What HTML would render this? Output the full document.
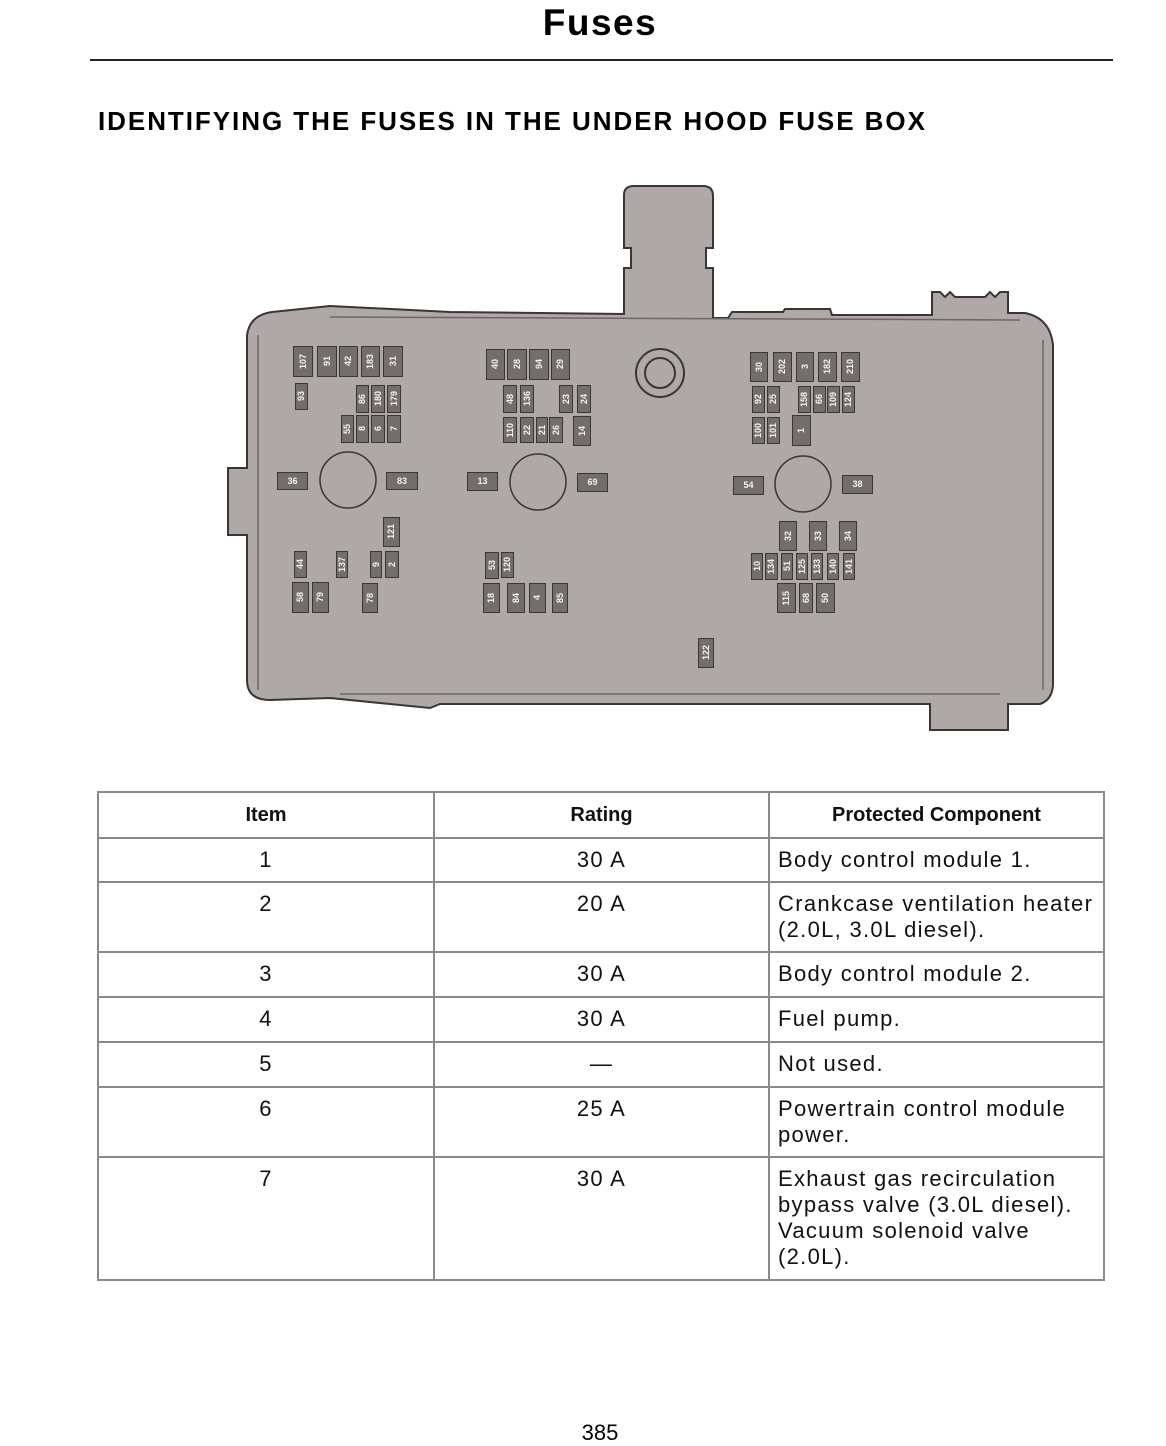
<!DOCTYPE html>
<html><head><meta charset="utf-8">
<style>
body{margin:0;width:1166px;height:1446px;background:#fff;position:relative;font-family:"Liberation Sans",sans-serif;overflow:hidden}
.t{position:absolute}
.f{position:absolute;background:#736d6b;border:1.5px solid #3a3636;box-sizing:border-box;color:#f4f2f2;font-weight:bold;font-size:9px;display:flex;align-items:center;justify-content:center;line-height:1}
.f.v span{writing-mode:vertical-rl;transform:rotate(180deg)}
table{position:absolute;left:97px;top:791px;width:1008px;border-collapse:collapse;font-size:22px;letter-spacing:1.3px;color:#111;table-layout:fixed}
td{border:2px solid #8a8a8a;vertical-align:top;padding:8px 0 0 0;line-height:26px}
td.c{text-align:center}
td.l{padding-left:8px;white-space:nowrap}
th{border:2px solid #8a8a8a;height:42px;font-size:20px;font-weight:bold;letter-spacing:0px}
</style></head><body>
<div class="t" style="left:0;width:1200px;top:2px;text-align:center;font-size:37px;font-weight:bold;letter-spacing:1.5px">Fuses</div>
<div class="t" style="left:90px;top:59px;width:1023px;height:2px;background:#222"></div>
<div class="t" style="left:98px;top:106px;font-size:26px;font-weight:bold;letter-spacing:1.95px;white-space:nowrap">IDENTIFYING THE FUSES IN THE UNDER HOOD FUSE BOX</div>

<svg class="t" style="left:0;top:0" width="1166" height="760">
<path d="M624,195 Q624,186 634,186 L703,186 Q713,186 713,196 L713,248 L706,248 L706,268 L713,268 L713,318 L728,318 L732,312 L783,312 L785,309 L830,309 L832,315 L932,315 L932,292 L940,292 L945,297 L950,292 L955,297 L985,297 L990,292 L995,297 L1000,292 L1008,292 L1008,313 L1025,313 Q1050,318 1053,345 L1053,685 Q1052,700 1040,704 L1008,704 L1008,730 L930,730 L930,704 L440,704 L430,708 L330,698 L270,700 Q247,700 247,680 L247,535 L228,535 L228,468 L247,468 L247,335 Q250,315 272,312 L330,306 L450,312 L624,314 L624,268 L631,268 L631,248 L624,248 Z" fill="#aea8a6" stroke="#3a3636" stroke-width="2"/>
<path d="M258,335 L258,690 M1043,340 L1043,690 M330,317 L1020,320 M340,694 L1000,694" stroke="#6b6565" stroke-width="1.5" fill="none"/>
<circle cx="660" cy="373" r="24" fill="none" stroke="#3a3636" stroke-width="2"/>
<circle cx="660" cy="373" r="15" fill="none" stroke="#3a3636" stroke-width="2"/>
<circle cx="348" cy="480" r="28" fill="none" stroke="#3a3636" stroke-width="1.5"/>
<circle cx="538" cy="482" r="28" fill="none" stroke="#3a3636" stroke-width="1.5"/>
<circle cx="803" cy="484" r="28" fill="none" stroke="#3a3636" stroke-width="1.5"/>
</svg>

<div class="f v" style="left:293px;top:346px;width:20px;height:31px"><span>107</span></div>
<div class="f v" style="left:317px;top:346px;width:20px;height:31px"><span>91</span></div>
<div class="f v" style="left:339px;top:346px;width:19px;height:31px"><span>42</span></div>
<div class="f v" style="left:361px;top:346px;width:19px;height:31px"><span>183</span></div>
<div class="f v" style="left:383px;top:346px;width:20px;height:31px"><span>31</span></div>
<div class="f v" style="left:295px;top:383px;width:13px;height:27px"><span>93</span></div>
<div class="f v" style="left:356px;top:385px;width:13px;height:28px"><span>86</span></div>
<div class="f v" style="left:371px;top:385px;width:14px;height:28px"><span>180</span></div>
<div class="f v" style="left:387px;top:385px;width:14px;height:28px"><span>179</span></div>
<div class="f v" style="left:341px;top:415px;width:13px;height:28px"><span>55</span></div>
<div class="f v" style="left:356px;top:415px;width:13px;height:28px"><span>8</span></div>
<div class="f v" style="left:371px;top:415px;width:14px;height:28px"><span>6</span></div>
<div class="f v" style="left:387px;top:415px;width:14px;height:28px"><span>7</span></div>
<div class="f" style="left:277px;top:472px;width:31px;height:18px"><span>36</span></div>
<div class="f" style="left:386px;top:472px;width:32px;height:18px"><span>83</span></div>
<div class="f v" style="left:383px;top:517px;width:17px;height:30px"><span>121</span></div>
<div class="f v" style="left:294px;top:551px;width:13px;height:27px"><span>44</span></div>
<div class="f v" style="left:336px;top:551px;width:12px;height:27px"><span>137</span></div>
<div class="f v" style="left:370px;top:551px;width:12px;height:27px"><span>9</span></div>
<div class="f v" style="left:385px;top:551px;width:14px;height:27px"><span>2</span></div>
<div class="f v" style="left:292px;top:582px;width:17px;height:31px"><span>58</span></div>
<div class="f v" style="left:312px;top:582px;width:17px;height:31px"><span>79</span></div>
<div class="f v" style="left:362px;top:583px;width:16px;height:30px"><span>78</span></div>
<div class="f v" style="left:486px;top:349px;width:19px;height:31px"><span>40</span></div>
<div class="f v" style="left:507px;top:349px;width:20px;height:31px"><span>28</span></div>
<div class="f v" style="left:529px;top:349px;width:20px;height:31px"><span>94</span></div>
<div class="f v" style="left:551px;top:349px;width:19px;height:31px"><span>29</span></div>
<div class="f v" style="left:503px;top:385px;width:14px;height:28px"><span>48</span></div>
<div class="f v" style="left:520px;top:385px;width:14px;height:28px"><span>136</span></div>
<div class="f v" style="left:559px;top:385px;width:14px;height:28px"><span>23</span></div>
<div class="f v" style="left:577px;top:385px;width:14px;height:28px"><span>24</span></div>
<div class="f v" style="left:503px;top:417px;width:14px;height:26px"><span>110</span></div>
<div class="f v" style="left:520px;top:417px;width:14px;height:26px"><span>22</span></div>
<div class="f v" style="left:536px;top:417px;width:12px;height:26px"><span>21</span></div>
<div class="f v" style="left:549px;top:417px;width:14px;height:26px"><span>26</span></div>
<div class="f v" style="left:573px;top:416px;width:18px;height:30px"><span>14</span></div>
<div class="f" style="left:467px;top:472px;width:31px;height:19px"><span>13</span></div>
<div class="f" style="left:577px;top:473px;width:31px;height:19px"><span>69</span></div>
<div class="f v" style="left:485px;top:552px;width:14px;height:27px"><span>53</span></div>
<div class="f v" style="left:501px;top:552px;width:13px;height:26px"><span>120</span></div>
<div class="f v" style="left:483px;top:583px;width:17px;height:30px"><span>18</span></div>
<div class="f v" style="left:507px;top:583px;width:18px;height:30px"><span>84</span></div>
<div class="f v" style="left:529px;top:583px;width:17px;height:30px"><span>4</span></div>
<div class="f v" style="left:552px;top:583px;width:16px;height:30px"><span>85</span></div>
<div class="f v" style="left:750px;top:352px;width:18px;height:30px"><span>30</span></div>
<div class="f v" style="left:773px;top:352px;width:19px;height:30px"><span>202</span></div>
<div class="f v" style="left:796px;top:352px;width:18px;height:30px"><span>3</span></div>
<div class="f v" style="left:818px;top:352px;width:19px;height:30px"><span>182</span></div>
<div class="f v" style="left:841px;top:352px;width:19px;height:30px"><span>210</span></div>
<div class="f v" style="left:752px;top:386px;width:13px;height:27px"><span>92</span></div>
<div class="f v" style="left:767px;top:386px;width:13px;height:27px"><span>25</span></div>
<div class="f v" style="left:798px;top:386px;width:13px;height:27px"><span>158</span></div>
<div class="f v" style="left:813px;top:386px;width:13px;height:27px"><span>66</span></div>
<div class="f v" style="left:827px;top:386px;width:13px;height:27px"><span>109</span></div>
<div class="f v" style="left:842px;top:386px;width:13px;height:27px"><span>124</span></div>
<div class="f v" style="left:752px;top:417px;width:13px;height:27px"><span>100</span></div>
<div class="f v" style="left:767px;top:417px;width:13px;height:27px"><span>101</span></div>
<div class="f v" style="left:792px;top:415px;width:19px;height:31px"><span>1</span></div>
<div class="f" style="left:733px;top:476px;width:31px;height:19px"><span>54</span></div>
<div class="f" style="left:842px;top:475px;width:31px;height:19px"><span>38</span></div>
<div class="f v" style="left:779px;top:521px;width:18px;height:30px"><span>32</span></div>
<div class="f v" style="left:809px;top:521px;width:18px;height:30px"><span>33</span></div>
<div class="f v" style="left:839px;top:521px;width:18px;height:30px"><span>34</span></div>
<div class="f v" style="left:751px;top:553px;width:12px;height:27px"><span>10</span></div>
<div class="f v" style="left:765px;top:553px;width:13px;height:27px"><span>134</span></div>
<div class="f v" style="left:781px;top:553px;width:12px;height:27px"><span>51</span></div>
<div class="f v" style="left:796px;top:553px;width:12px;height:27px"><span>125</span></div>
<div class="f v" style="left:811px;top:553px;width:12px;height:27px"><span>133</span></div>
<div class="f v" style="left:827px;top:553px;width:12px;height:27px"><span>140</span></div>
<div class="f v" style="left:843px;top:553px;width:12px;height:27px"><span>141</span></div>
<div class="f v" style="left:777px;top:583px;width:19px;height:30px"><span>115</span></div>
<div class="f v" style="left:799px;top:583px;width:14px;height:30px"><span>68</span></div>
<div class="f v" style="left:816px;top:583px;width:19px;height:30px"><span>50</span></div>
<div class="f v" style="left:698px;top:638px;width:16px;height:30px"><span>122</span></div>

<table>
<colgroup><col style="width:336px"><col style="width:335px"><col></colgroup>
<tr><th>Item</th><th>Rating</th><th>Protected Component</th></tr>
<tr style="height:44px"><td class="c">1</td><td class="c">30 A</td><td class="l">Body control module 1.</td></tr>
<tr style="height:70px"><td class="c">2</td><td class="c">20 A</td><td class="l">Crankcase ventilation heater<br>(2.0L, 3.0L diesel).</td></tr>
<tr style="height:45px"><td class="c">3</td><td class="c">30 A</td><td class="l">Body control module 2.</td></tr>
<tr style="height:45px"><td class="c">4</td><td class="c">30 A</td><td class="l">Fuel pump.</td></tr>
<tr style="height:45px"><td class="c">5</td><td class="c">—</td><td class="l">Not used.</td></tr>
<tr style="height:70px"><td class="c">6</td><td class="c">25 A</td><td class="l">Powertrain control module<br>power.</td></tr>
<tr style="height:123px"><td class="c">7</td><td class="c">30 A</td><td class="l">Exhaust gas recirculation<br>bypass valve (3.0L diesel).<br>Vacuum solenoid valve<br>(2.0L).</td></tr>
</table>
<div class="t" style="left:0;width:1200px;top:1420px;text-align:center;font-size:22px">385</div>
</body></html>
